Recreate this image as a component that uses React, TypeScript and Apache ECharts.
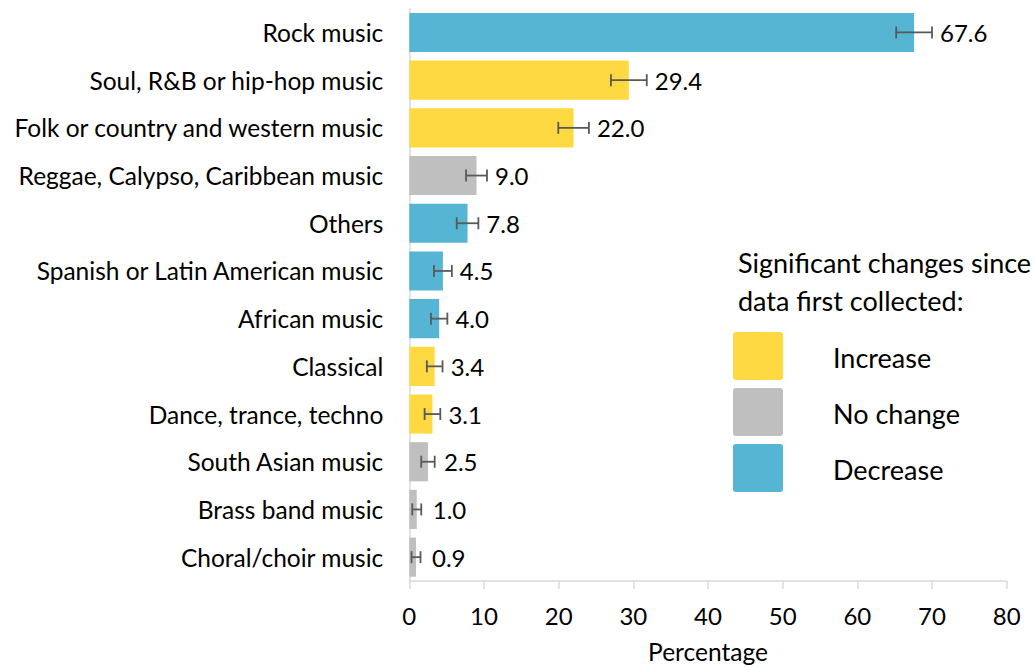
import React, { useEffect, useRef } from "react";
import * as echarts from "echarts";

const categories = [
  "Rock music",
  "Soul, R&B or hip-hop music",
  "Folk or country and western music",
  "Reggae, Calypso, Caribbean music",
  "Others",
  "Spanish or Latin American music",
  "African music",
  "Classical",
  "Dance, trance, techno",
  "South Asian music",
  "Brass band music",
  "Choral/choir music",
];
const values = [67.6, 29.4, 22.0, 9.0, 7.8, 4.5, 4.0, 3.4, 3.1, 2.5, 1.0, 0.9];
const errors = [2.4, 2.4, 2.05, 1.4, 1.45, 1.2, 1.1, 1.05, 1.05, 0.9, 0.6, 0.6];
const changes = [
  "Decrease",
  "Increase",
  "Increase",
  "No change",
  "Decrease",
  "Decrease",
  "Decrease",
  "Increase",
  "Increase",
  "No change",
  "No change",
  "No change",
];
const legendItems = ["Increase", "No change", "Decrease"];
const xTicks = [0, 10, 20, 30, 40, 50, 60, 70, 80];

const colorMap: Record<string, string> = {
  Increase: "#FED941",
  "No change": "#BFBFBF",
  Decrease: "#55B5D2",
};

const FONT = "Lato";

export default function App() {
  const ref = useRef<HTMLDivElement>(null);
  useEffect(() => {
    if (!ref.current) return;
    const chart = echarts.init(ref.current, undefined, { renderer: "svg" });
    const legendGraphics: any[] = [
      {
        type: "text",
        left: 738,
        top: 243,
        style: {
          text: "Significant changes since\ndata first collected:",
          font: `27px ${FONT}`,
          fill: "#000",
          lineHeight: 38,
        },
      },
    ];
    legendItems.forEach((name, i) => {
      legendGraphics.push({
        type: "rect",
        shape: { x: 733, y: 332 + i * 56, width: 50, height: 48, r: 3 },
        style: { fill: colorMap[name] },
      });
      legendGraphics.push({
        type: "text",
        x: 833,
        y: 357 + i * 56,
        style: {
          text: name,
          font: `27px ${FONT}`,
          fill: "#000",
          verticalAlign: "middle",
        },
      });
    });
    chart.setOption({
      animation: false,
      grid: { left: 409.3, right: 28.3, top: 8.6, bottom: 87, containLabel: false, outerBoundsMode: "none" },
      xAxis: {
        type: "value",
        min: 0,
        max: 80,
        interval: 10,
        name: "Percentage",
        nameLocation: "middle",
        nameGap: 57,
        nameTextStyle: { fontFamily: FONT, fontSize: 24.5, color: "#000", lineHeight: 26 },
        axisLine: { show: true, lineStyle: { color: "#D9D9D9", width: 1.5 } },
        axisTick: { show: true, length: 8, lineStyle: { color: "#D9D9D9", width: 1.5 } },
        axisLabel: {
          fontFamily: FONT,
          fontSize: 24,
          color: "#000",
          margin: 22,
          formatter: (v: number) => (xTicks.includes(v) ? String(v) : ""),
        },
        splitLine: { show: false },
      },
      yAxis: {
        type: "category",
        data: categories,
        inverse: true,
        axisLine: { show: true, lineStyle: { color: "#D9D9D9", width: 1.5 } },
        axisTick: { show: false },
        axisLabel: { fontFamily: FONT, fontSize: 24.5, color: "#000", margin: 26 },
      },
      series: [
        {
          type: "bar",
          barCategoryGap: "18%",
          data: values.map((v, i) => ({
            value: v,
            itemStyle: { color: colorMap[changes[i]] },
          })),
        },
        {
          type: "custom",
          data: values.map((v, i) => [i, v, errors[i]]),
          encode: { x: 1, y: 0 },
          z: 5,
          renderItem: (params: any, api: any) => {
            const idx = api.value(0);
            const v = api.value(1);
            const e = api.value(2);
            const lo = api.coord([v - e, idx]);
            const hi = api.coord([v + e, idx]);
            const end = api.coord([v, idx]);
            const cap = 6;
            const st = { stroke: "#595959", lineWidth: 1.8 };
            const lx = Math.max(end[0] + 16, hi[0] + 8);
            return {
              type: "group",
              children: [
                { type: "line", shape: { x1: lo[0], y1: lo[1], x2: hi[0], y2: hi[1] }, style: st },
                { type: "line", shape: { x1: lo[0], y1: lo[1] - cap, x2: lo[0], y2: lo[1] + cap }, style: st },
                { type: "line", shape: { x1: hi[0], y1: hi[1] - cap, x2: hi[0], y2: hi[1] + cap }, style: st },
                {
                  type: "text",
                  x: lx,
                  y: hi[1],
                  style: {
                    text: v.toFixed(1),
                    font: `24px ${FONT}`,
                    fill: "#000",
                    verticalAlign: "middle",
                    align: "left",
                  },
                },
              ],
            };
          },
        },
      ],
      graphic: legendGraphics,
    });
    return () => chart.dispose();
  }, []);
  return <div ref={ref} style={{ width: 1035, height: 668, position: "absolute", left: 0, top: 0 }} />;
}
